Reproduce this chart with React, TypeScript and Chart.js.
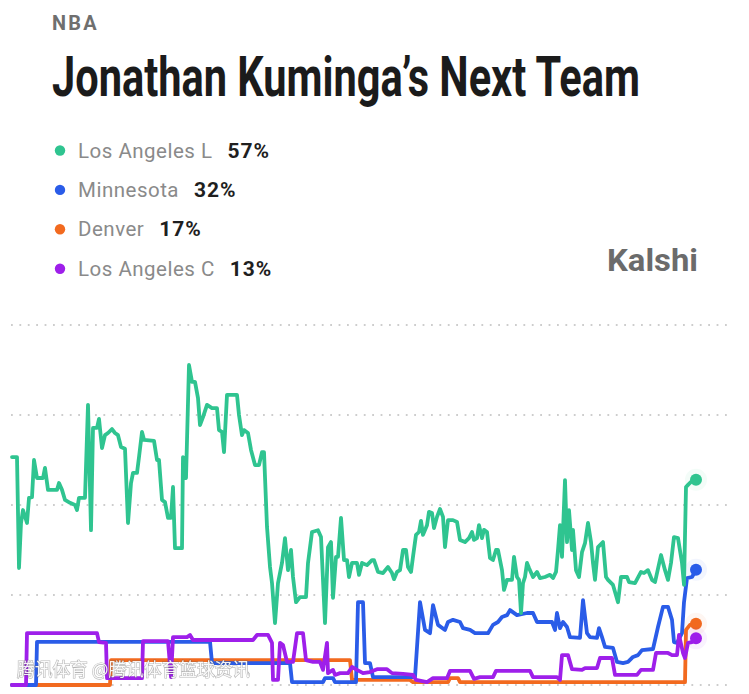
import React, { useEffect, useRef } from "react";
import { Chart, registerables } from "chart.js";

Chart.register(...registerables);

// ---- Data (time index along the market history, probability in %) ----
const teams = ["Los Angeles L", "Minnesota", "Denver", "Los Angeles C"];
const latest = [57, 32, 17, 13];
const colors = ["#2fc490", "#2a5ce8", "#f26a1f", "#9e1fea"];

const tLAL = [0,5,7,9,11,15,17,20,22,25,31,33,36,45,47,50,53,58,63,65,67,73,76,79,81,85,87,90,93,96,100,103,106,109,113,116,119,121,125,127,130,132,142,145,147,150,153,156,159,161,163,170,171,174,177,180,183,186,188,191,195,200,205,207,210,212,215,225,227,230,232,236,239,243,247,250,252,255,258,260,263,266,270,273,276,279,281,284,288,294,296,300,306,309,313,316,319,321,324,326,329,332,335,337,340,345,347,350,355,360,362,366,371,376,380,382,385,388,391,394,396,399,401,404,407,409,411,415,417,420,422,425,428,431,433,436,441,445,448,453,457,460,462,465,467,470,472,475,478,481,484,486,490,492,495,500,502,505,507,509,511,513,515,517,521,525,528,533,538,541,544,546,548,550,553,555,557,560,561,564,567,570,573,576,579,581,583,586,591,594,596,601,606,609,615,617,623,629,632,636,640,643,649,653,656,659,662,666,670,672,674,676,679,684];
const vLAL = [63.3,63.3,32.5,45,48.6,45,52,52.2,62.5,57.5,57.5,60.3,54.2,54.2,56.1,54.2,51.4,50.6,50,48.6,52,52,77.8,43,71.4,71.4,73.9,65.8,69.4,70,71.1,70,69.4,66.1,65.6,45,56.1,58.9,58.9,63.3,70.3,68.1,67.8,62.5,62.5,51.4,50.8,46.4,46.4,55,38,38,63.3,57.5,88.9,84.2,84.2,79.7,72.2,74.4,77.8,76.9,76.9,70.8,70.3,64.7,80.6,80.6,75,69.4,70.8,70,65.3,61.1,61.1,64.7,64.7,43.9,32.8,28.3,17.2,28.3,33.9,40.8,31.9,37.5,30,23,24.4,24.4,33.9,42.5,43,41.1,17.2,38.3,39.7,24.2,35.6,35.6,46.4,34.7,34.7,30,33.9,33.9,30.6,33.9,33.3,34.7,34.7,31.4,31.1,32.8,31.1,29.4,31.4,31.9,37.5,37.5,32.8,31.4,35.6,41.7,42.5,45.6,41.7,44.4,48.1,47.8,43.6,46.7,48.9,46.7,38.3,45.8,45.8,45.3,40.3,39.7,40.8,42.5,40.3,40.8,44.4,40.8,43.1,42.5,35.3,34.7,37.5,37.5,31.9,26.4,29.2,29.2,35.6,30,29.2,20,28.3,30,33.9,32.5,30,31.4,29.7,30,30.6,29.7,31.4,37.5,44.4,35.6,56.9,39.7,48.6,37.5,43.1,31.9,30,36.9,39.4,45,39.7,33.9,29.2,38.3,39.7,30,29.2,27.8,23,30,30,28.6,28.3,31.4,31.1,31.9,29.2,28.6,36.1,31.9,29.2,33.9,41.1,40.8,33.9,27.8,55,55.6,56.4,57];

const tMIN = [0,24,25,198,200,278,280,311,313,321,323,344,346,351,353,358,361,403,408,413,418,421,426,433,436,441,448,451,458,463,476,481,486,490,495,498,505,515,521,525,540,543,545,548,551,555,558,568,571,575,578,585,587,590,593,601,605,611,616,621,626,630,641,646,651,656,660,662,665,670,672,675,680,684];
const vMIN = [0,0,12,12,6.1,6.1,0.8,0.8,1.9,1.9,0.8,0.8,23,23,6.1,6.1,2.2,2.2,23,15.3,14.4,22.2,16.7,15.3,17.5,18.1,17.5,15.8,15.3,14.4,14.4,16.7,17.5,18.9,19.4,20.8,19.4,20,20,17.5,17.5,15.3,20,15.8,17.5,16.1,13.3,13.1,23.6,14.4,13.3,13.1,15.8,13.3,10.6,10.3,6.4,6.1,6.4,7.8,8.3,9.7,10,16.1,21.7,21.7,18.1,11.9,11.7,14.4,23,29.7,30,32];

const tDEN = [0,98,99,338,340,398,401,436,438,446,448,673,674,678,684];
const vDEN = [0,0,6.9,6.9,1.4,1.4,0.8,0.8,1.9,1.9,0.8,0.8,15.3,16.7,17];

const tLAC = [0,14,15,85,87,94,95,130,131,156,159,161,175,178,181,241,245,256,260,261,266,268,271,275,281,285,291,294,301,308,311,315,316,321,323,328,336,340,345,351,358,365,375,380,391,401,404,415,421,435,438,458,462,468,481,484,518,521,545,548,550,556,560,570,573,585,588,600,603,625,629,641,644,656,660,665,667,671,673,676,680,684];
const vLAC = [0,0,14.4,14.4,11.9,11.7,1.9,1.9,12.2,12.2,2.2,13.3,13.3,13.9,12.5,12.5,13.9,13.9,11.7,1.4,1.4,11.7,11.1,6.4,6.4,14.4,14.4,6.9,6.4,6.4,4.2,11.7,3.3,4.2,2.8,3.3,3.3,5,4.2,3.3,3.6,4.4,4.4,3.3,3.1,2.8,1.4,0.8,1.9,1.9,3.9,3.9,1.7,2.2,2.2,3.9,3.9,2.2,2.2,1.4,8.3,8.3,4.4,4.2,4.7,4.7,7.5,7.5,2.8,2.8,4.2,4.2,8.9,8.9,8.3,8.3,13.9,8.9,7.5,11.7,11.9,13];

const yTicks = [0, 25, 50, 75, 100];

function pts(ts: number[], vs: number[]) {
  return ts.map((t, i) => ({ x: t, y: vs[i] }));
}

function hexA(hex: string, a: number) {
  const n = parseInt(hex.slice(1), 16);
  return `rgba(${(n >> 16) & 255},${(n >> 8) & 255},${n & 255},${a})`;
}

function ds(label: string, data: { x: number; y: number }[], color: string) {
  const last = data.length - 1;
  return {
    label,
    data,
    borderColor: color,
    backgroundColor: color,
    borderWidth: 3.8,
    tension: 0,
    borderJoinStyle: "round" as const,
    borderCapStyle: "round" as const,
    pointRadius: (c: any) => (c.dataIndex === last ? 6 : 0),
    pointHoverRadius: 0,
    pointBackgroundColor: color,
    pointBorderColor: hexA(color, 0.06),
    pointBorderWidth: (c: any) => (c.dataIndex === last ? 10 : 0),
    clip: false as any,
  };
}

const dotGrid = {
  id: "dotGrid",
  beforeDatasetsDraw(chart: any) {
    const { ctx, chartArea, scales } = chart;
    ctx.save();
    ctx.strokeStyle = "#cdcdcd";
    ctx.lineWidth = 1.8;
    ctx.setLineDash([1.8, 6.6]);
    yTicks.forEach((v) => {
      const y = Math.round(scales.y.getPixelForValue(v));
      ctx.beginPath();
      ctx.moveTo(chartArea.left, y);
      ctx.lineTo(chartArea.right, y);
      ctx.stroke();
    });
    ctx.restore();
  },
};

function ChartCanvas() {
  const ref = useRef<HTMLCanvasElement | null>(null);
  useEffect(() => {
    if (!ref.current) return;
    const chart = new Chart(ref.current, {
      type: "line",
      data: {
        datasets: [
          ds(teams[0], pts(tLAL, vLAL), colors[0]),
          ds(teams[3], pts(tLAC, vLAC), colors[3]),
          ds(teams[1], pts(tMIN, vMIN), colors[1]),
          ds(teams[2], pts(tDEN, vDEN), colors[2]),
        ],
      },
      options: {
        animation: false,
        responsive: false,
        maintainAspectRatio: false,
        layout: { padding: { left: 11, right: 17, top: 25, bottom: 9 }, autoPadding: false },
        plugins: { legend: { display: false }, tooltip: { enabled: false } },
        events: [],
        scales: {
          x: { type: "linear", min: -1, max: 720, display: false },
          y: { type: "linear", min: 0, max: 100, display: false },
        },
      },
      plugins: [dotGrid],
    });
    return () => chart.destroy();
  }, []);
  return (
    <canvas
      ref={ref}
      width={749}
      height={394}
      style={{ position: "absolute", left: 0, top: 300, width: 749, height: 394 }}
    />
  );
}

export default function App() {
  const rowY = [150.5, 189.9, 229.3, 268.7];
  return (
    <div
      style={{
        position: "absolute",
        left: 0,
        top: 0,
        width: 749,
        height: 694,
        background: "#ffffff",
        overflow: "hidden",
        fontFamily: "Roboto, 'Noto Sans', sans-serif",
      }}
    >
      <svg width={749} height={300} style={{ position: "absolute", left: 0, top: 0 }}>
        <text x={52} y={30} fontFamily="Roboto" fontWeight={700} fontSize={21} letterSpacing={2.4} fill="#6f6f6f" textLength={47} lengthAdjust="spacingAndGlyphs">
          NBA
        </text>
        <text x={52} y={96} fontFamily="Roboto" fontWeight={700} fontSize={55} fill="#1b1b1b" textLength={588} lengthAdjust="spacingAndGlyphs">
          Jonathan Kuminga’s Next Team
        </text>
        {teams.map((t, i) => (
          <g key={t}>
            <circle cx={60} cy={rowY[i]} r={5.2} fill={colors[i]} />
            <text x={78} y={rowY[i] + 7} fontFamily="Roboto" fontSize={20.5} letterSpacing={0.5} fill="#8a8a8a">
              {t}
              <tspan dx={15} fontWeight={700} fontSize={21} fill="#1f1f1f" letterSpacing={0.9}>
                {latest[i]}%
              </tspan>
            </text>
          </g>
        ))}
        <text x={607} y={271} fontFamily="Roboto" fontWeight={700} fontSize={31} fill="#6b6b6b" textLength={91} lengthAdjust="spacingAndGlyphs">
          Kalshi
        </text>
      </svg>
      <ChartCanvas />
      <svg width={749} height={694} style={{ position: "absolute", left: 0, top: 0, pointerEvents: "none" }}>
        <text
          x={17}
          y={676}
          fontFamily="'Noto Sans CJK SC'"
          fontSize={18}
          fill="rgba(255,255,255,0.92)"
          stroke="rgba(90,90,90,0.45)"
          strokeWidth={1.2}
          paintOrder="stroke"
          textLength={233}
          lengthAdjust="spacingAndGlyphs"
        >
          腾讯体育 @腾讯体育篮球资讯
        </text>
      </svg>
    </div>
  );
}
